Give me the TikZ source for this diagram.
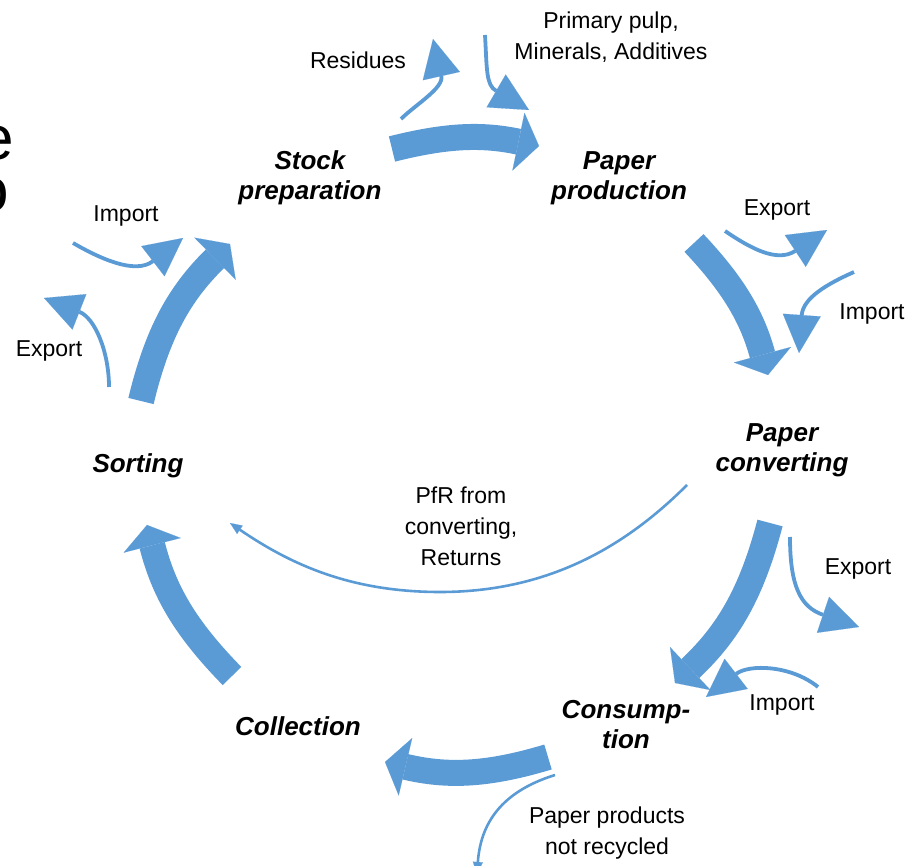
\documentclass[tikz,border=0pt]{standalone}
\usepackage{fontspec}
\setmainfont{Liberation Sans}
\usetikzlibrary{arrows.meta}

\definecolor{flowblue}{RGB}{91,155,213}

\begin{document}
\begin{tikzpicture}[x=1pt,y=-1pt,
  stage/.style={font=\fontsize{26}{30}\selectfont\bfseries\itshape, align=center, inner sep=0pt},
  flowlabel/.style={font=\fontsize{23}{31}\selectfont, align=center, inner sep=0pt},
  cutoff/.style={font=\fontsize{62}{66}\selectfont, inner sep=0pt, anchor=base east},
  ring/.style={draw=flowblue, line width=26pt,
    -{Triangle[length=21pt,width=59pt,line width=0.1pt]}},
  sideflow/.style={draw=flowblue, line width=3.8pt,
    -{Triangle[length=38pt,width=38pt,line width=0.1pt]}},
  thinflow/.style={draw=flowblue, line width=2.6pt,
    -{Triangle[length=12pt,width=10pt,line width=0.1pt]}}]

\useasboundingbox (0,0) rectangle (922,866);
\clip (0,0) rectangle (922,866);

% partly visible heading letters at the left edge
\node[cutoff] (headA) at (14,160) {e};
\node[cutoff] (headB) at (9,212) {o};

% stages of the paper cycle
\node[stage] (stock) at (310,178) {Stock\\preparation};
\node[stage] (prod)  at (619,178) {Paper\\production};
\node[stage] (conv)  at (782,450) {Paper\\converting};
\node[stage] (cons)  at (626,725) {Consump-\\tion};
\node[stage] (coll)  at (298,726) {Collection};
\node[stage] (sort)  at (138,466) {Sorting};

% ends of the main cycle arrows
\coordinate (r1s) at (392,149); \coordinate (r1e) at (539,146);
\coordinate (r2s) at (694,243); \coordinate (r2e) at (768,375);
\coordinate (r3s) at (770,523); \coordinate (r3e) at (675,683);
\coordinate (r4s) at (548,757); \coordinate (r4e) at (385,762);
\coordinate (r5s) at (232,676); \coordinate (r5e) at (147,525);
\coordinate (r6s) at (141,401); \coordinate (r6e) at (230,244);

\draw[ring] (r1s) to[bend left=13] (r1e);
\draw[ring] (r2s) to[bend left=14] (r2e);
\draw[ring] (r3s) to[bend left=16] (r3e);
\draw[ring] (r4s) to[bend left=15] (r4e);
\draw[ring] (r5s) to[bend left=15] (r5e);
\draw[ring] (r6s) to[bend left=16] (r6e);

% side flows: imports, exports, residues, raw materials
\coordinate (ilS) at (73,243);   \coordinate (ilE) at (183,238);
\coordinate (elS) at (109,387);  \coordinate (elE) at (44,298);
\coordinate (rsS) at (401,119);  \coordinate (rsE) at (433,39);
\coordinate (ppS) at (485,35);   \coordinate (ppE) at (529,110);
\coordinate (e1S) at (725,231);  \coordinate (e1E) at (827,230);
\coordinate (i1S) at (854,272);  \coordinate (i1E) at (799,353);
\coordinate (e2S) at (790,537);  \coordinate (e2E) at (859,627);
\coordinate (i2S) at (818,687);  \coordinate (i2E) at (706,697);
\coordinate (pnS) at (555,775);  \coordinate (pnE) at (477,874);
\coordinate (pfS) at (687,485);  \coordinate (pfM) at (440,592);
\coordinate (pfE) at (230,523);

\draw[sideflow] (ilS) .. controls (99,258) and (135,275) .. (ilE);
\draw[sideflow] (elS) .. controls (109,352) and (95,318) .. (elE);
\draw[sideflow] (rsS) .. controls (415,105) and (444,88) .. (rsE);
\draw[sideflow] (ppS) .. controls (487,70) and (486,85) .. (ppE);
\draw[sideflow] (e1S) .. controls (750,248) and (777,263) .. (e1E);
\draw[sideflow] (i1S) .. controls (827,284) and (803,298) .. (i1E);
\draw[sideflow] (e2S) .. controls (790,585) and (800,607) .. (e2E);
\draw[sideflow] (i2S) .. controls (791,665) and (749,664) .. (i2E);
\draw[thinflow] (pnS) .. controls (507,790) and (481,818) .. (pnE);
\draw[thinflow] (pfS) .. controls (627,545) and (550,592) .. (pfM)
                      .. controls (350,592) and (290,564) .. (pfE);

% flow labels
\node[flowlabel] (lres)  at (358,60)  {Residues};
\node[flowlabel] (lprim) at (611,37)  {Primary pulp,\\Minerals, Additives};
\node[flowlabel] (limpL) at (126,216) {Import};
\node[flowlabel] (lexpL) at (49,351)  {Export};
\node[flowlabel] (lexp1) at (777,210) {Export};
\node[flowlabel] (limp1) at (872,314) {Import};
\node[flowlabel] (lexp2) at (858,569) {Export};
\node[flowlabel] (limp2) at (782,705) {Import};
\node[flowlabel] (lpfr)  at (461,526) {PfR from\\converting,\\Returns};
\node[flowlabel] (lnot)  at (607,833) {Paper products\\not recycled};
\end{tikzpicture}
\end{document}
